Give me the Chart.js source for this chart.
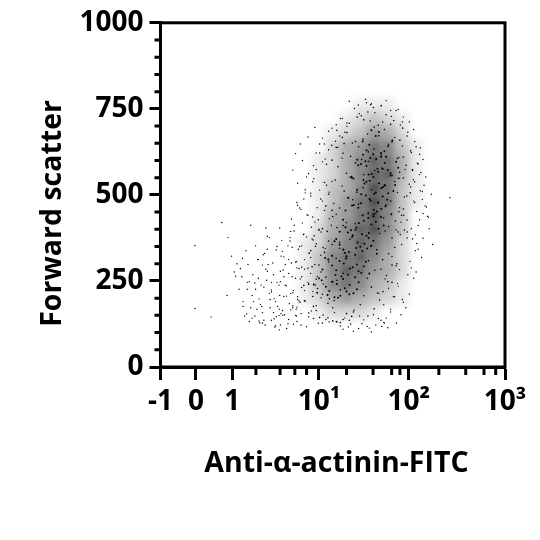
<!DOCTYPE html>
<html>
<head>
<meta charset="utf-8">
<style>
body { margin: 0; background: #fff; }
</style>
<script src="https://cdn.jsdelivr.net/npm/chart.js@4"></script>
</head>
<body>
<canvas id="myChart" width="540" height="540"></canvas>
<script>
// eje x en canales (0-1000) porque la escala original es biexponencial
const xTicks = [0, 103, 208, 460, 721, 1000]
const xTickLabels = ["-1", "0", "1", "10¹", "10²", "10³"]
const xMinor = [277, 347, 390, 424, 540, 617, 671, 695, 808, 886, 939, 973]
const yTicks = [0, 250, 500, 750, 1000]
const yMinor = [50, 100, 150, 200, 300, 350, 400, 450, 550, 600, 650, 700, 800, 850, 900, 950]

// el original tiene miles de puntos: aqui va una muestra leida a ojo
// y debajo una capa de densidad (0-9) estimada de la imagen
const densX = [380, 420, 460, 500, 540, 580, 620, 660, 700, 740]
const densY = [760, 720, 680, 640, 600, 560, 520, 480, 440, 400, 360, 320, 280, 240, 200, 160]
const densVal = [
    [0,0,0,0,0,1,1,1,0,0],
    [0,0,0,0,1,2,3,2,1,0],
    [0,0,0,1,2,3,5,4,2,0],
    [0,0,0,2,4,5,7,6,3,1],
    [0,0,1,2,4,6,8,7,4,1],
    [0,0,1,2,4,6,8,8,4,1],
    [0,0,1,3,4,6,9,7,3,1],
    [0,0,1,3,5,7,9,7,3,1],
    [0,0,1,4,5,7,9,6,3,0],
    [0,0,2,4,6,8,9,6,3,0],
    [0,1,2,5,6,8,7,5,2,0],
    [0,1,3,6,7,8,6,4,2,0],
    [0,1,3,6,8,7,5,4,2,0],
    [0,1,3,6,7,6,4,3,1,0],
    [0,1,2,4,5,4,3,2,1,0],
    [0,0,1,2,2,2,1,0,0,0]
]

const coreX = [612,640,587,661,625,598,673,634,606,650,
571,632,655,598,684,617,645,582,668,609,
640,595,660,626,574,690,613,651,588,630,
560,625,592,668,641,607,583,652,618,676,
634,571,604,661,589,646,620,555,681,598,
545,603,632,574,658,587,619,645,561,610,
628,556,596,670,582,641,607,537,653,618,
530,585,612,553,640,569,598,625,544,603,
576,633,520,590,558,618,648,537,605,566,
510,565,592,531,618,547,580,604,498,572,
540,600,520,628,556,586,505,612,535,568,
487,544,570,510,596,525,558,478,583,532,
550,498,606,520,565,470,538,590,508,575,
468,522,549,490,575,505,535,460,560,512,
480,530,455,548,498,570,515,445,540,485]
const coreY = [688,622,655,641,671,630,658,683,646,627,
602,567,611,584,596,618,575,590,563,607,
611,598,572,604,586,579,561,593,617,576,
548,507,533,556,519,541,502,527,552,511,
534,515,559,505,543,523,503,550,529,538,
492,447,478,463,486,441,457,495,471,483,
452,469,498,444,476,460,488,455,467,443,
428,386,414,397,436,405,381,422,391,433,
418,402,393,425,383,437,411,406,389,399,
372,326,358,341,367,334,349,375,323,362,
321,344,355,329,378,337,365,352,331,346,
312,268,298,281,306,263,290,317,274,301,
286,295,272,308,261,283,315,293,267,278,
252,207,238,221,246,203,229,258,214,241,
233,256,216,211,248,226,201,240,219,209]

const bodyX = [602,645,571,668,618,590,655,632,548,677,610,583,
512,566,634,703,588,541,672,620,528,695,601,650,557,716,
497,552,620,688,530,662,584,726,510,641,575,705,603,533,
482,540,604,731,515,672,566,622,498,694,550,713,642,590,
476,533,692,588,507,725,650,555,612,488,680,527,705,570,
465,520,715,575,498,668,545,692,480,632,510,705,558,655,
458,512,700,565,484,648,530,682,470,622,500,708,540,662,
446,498,690,550,472,636,520,672,460,610,488,696,530,652,
436,488,680,540,460,628,510,662,450,604,476,686,520,645,
428,480,684,530,452,622,500,656,440,600,466,672,512,640,
416,470,672,522,442,612,490,646,430,590,456,660,504,630,
405,452,636,500,430,580,472,620,418,560,444,602,486,540,
444,500,555,470,530,462,512,548,486,522]
const bodyY = [741,712,726,705,754,718,733,702,708,716,762,730,
688,655,672,694,662,681,654,697,667,659,677,690,651,671,
644,612,633,606,621,647,603,628,638,616,640,610,625,649,
589,563,597,574,582,556,593,571,601,566,552,586,578,559,
536,511,548,521,543,506,529,553,515,502,539,526,549,508,
488,462,497,473,455,482,492,451,468,476,444,459,486,471,
428,405,441,416,394,433,411,424,402,446,437,398,420,408,
381,356,392,371,347,388,362,375,399,351,366,385,342,395,
338,305,347,322,296,341,316,329,351,309,333,300,345,312,
287,261,294,272,255,281,248,266,291,258,276,296,252,284,
237,211,246,224,205,232,198,219,241,207,228,248,193,215,
188,164,195,172,157,181,151,169,192,160,176,148,185,155,
141,134,147,128,138,144,131,136,143,129]

const outerX = [548,612,690,574,705,640,522,735,510,668,595,722,
470,742,488,752,462,746,452,756,478,738,444,760,
430,735,442,744,420,752,416,728,408,716,436,748,
398,425,412,388,440,404,376,432,395,418,382,450,
690,722,705,680,735,712,698,668,728,655,685,642,
370,392,356,410,365,378,348,402,384,358,395,345,
372,350,386,340,366,396,330,355,408,322,378,345,
600,650,575,625,560,640,530,612,585,545,510,660,
780,772,765,790,758,748,775,786,742,762,840,770]
const outerY = [772,765,748,761,726,758,722,690,704,745,778,712,
665,640,685,618,648,592,622,565,604,538,585,510,
562,482,538,452,515,428,488,402,458,375,505,342,
470,442,418,395,372,350,376,330,306,284,262,238,
235,212,188,204,258,172,152,168,288,142,128,118,
352,305,282,262,236,214,248,192,172,205,148,168,
138,155,124,176,112,132,198,150,122,218,166,108,
118,128,112,122,104,136,110,102,126,116,132,114,
402,465,528,356,318,590,438,502,276,374,492,552]

const fringeX = [528,563,598,622,655,684,541,577,609,641,670,702,
498,520,476,535,462,508,488,527,470,515,452,541,
445,482,462,498,436,470,455,490,428,476,448,503,
438,466,424,490,452,415,478,443,496,431,460,410,
418,448,402,436,465,392,428,455,410,442,472,398,
420,452,386,438,466,408,430,480,396,458,424,490,
505,535,562,590,618,648,522,552,578,606,632,668,
648,676,702,662,688,718,634,694,652,724,672,740,
700,732,684,748,716,762,694,738,708,754,722,690,
740,706,768,726,752,688,716,778,734,698,760,744,
710,746,692,728,762,702,738,680,718,754,696,732]
const fringeY = [722,751,768,739,774,745,709,736,715,760,728,712,
694,671,648,682,622,656,631,607,596,638,574,699,
547,528,514,539,497,482,463,508,441,455,421,475,
406,392,378,431,358,385,344,369,412,331,398,352,
312,298,286,272,325,258,246,263,231,219,241,204,
192,178,222,163,201,155,146,138,174,127,117,131,
158,142,165,137,152,129,119,125,148,113,141,160,
181,204,196,229,243,268,214,283,256,307,321,338,
356,372,398,411,427,446,463,478,494,512,531,548,
384,441,468,523,559,507,392,435,544,421,487,359,
574,591,609,623,603,642,655,667,682,637,703,571]

const tailX = [100,100,147,193,196,178,222,248,262,236,
286,274,300,252,318,268,296,330,282,308,
346,322,290,338,354,312,276,334,360,300,
372,350,328,384,316,344,296,366,392,338,
304,258,326,284,352,372,310,240,336,294,
266,378,348,316,288,362,252,334,398,306,
400,380,410,396,376,420,388,430,404,416,
424,398,436,412,384,442,406,392,428,448,
206,232,258,284,310,336,362,218,244,270,296,322,
348,374,228,254,280,306,332,358,384,240,266,292,
318,344,370,396,276,302,328,354,380,406,214,250,
286,322,358,394,238,274,310,346,382,418,262,298]
const tailY = [353,170,145,208,376,420,300,338,172,262,
198,148,232,226,172,268,158,140,312,252,
208,136,182,246,164,298,226,190,152,136,
272,322,158,178,214,238,296,206,150,350,
122,132,302,258,368,312,342,190,146,176,
142,394,278,376,128,238,246,120,196,404,
342,430,290,478,366,506,412,240,462,386,
552,534,318,600,572,436,648,620,668,696,
322,286,248,312,278,340,298,264,148,190,128,246,
122,184,226,298,168,284,116,262,216,176,208,238,
196,150,126,288,352,330,268,336,302,256,276,154,
134,224,320,168,316,244,380,404,348,222,412,326]

const zipPts = (xs, ys) => xs.map((x, i) => ({ x: x, y: ys[i] }))

const dotSet = (xs, ys, r) => ({
    data: zipPts(xs, ys),
    backgroundColor: "#000",
    borderWidth: 0,
    pointRadius: r,
    pointHoverRadius: r
})

// capa de densidad: una celda por cada valor mayor que cero
const densPts = []
const densColors = []
densVal.forEach((fila, j) => {
    fila.forEach((v, i) => {
        if (v > 0) {
            densPts.push({ x: densX[i], y: densY[j] })
            densColors.push(`rgba(0,0,0,${v * 0.085})`)
        }
    })
})

const fuente = { family: "'Open Sans'", weight: "700", size: 28 }
const fuenteTitulo = { family: "'Open Sans'", weight: "700", size: 28.5 }

// difumina solo la capa de densidad
const blurPlugin = {
    id: "blurDens",
    beforeDatasetDraw(chart, args) {
        if (args.index === 0) {
            chart.ctx.save()
            chart.ctx.filter = "blur(4px)"
        }
    },
    afterDatasetDraw(chart, args) {
        if (args.index === 0) chart.ctx.restore()
    }
}

// marco y marcas menores
const marcoPlugin = {
    id: "marco",
    afterDraw(chart) {
        const ctx = chart.ctx
        const a = chart.chartArea
        ctx.save()
        ctx.strokeStyle = "#000"
        ctx.lineWidth = 3
        ctx.strokeRect(a.left, a.top, a.right - a.left, a.bottom - a.top)
        ctx.beginPath()
        xMinor.forEach(v => {
            const p = chart.scales.x.getPixelForValue(v)
            ctx.moveTo(p, a.bottom)
            ctx.lineTo(p, a.bottom + 8)
        })
        yMinor.forEach(v => {
            const p = chart.scales.y.getPixelForValue(v)
            ctx.moveTo(a.left, p)
            ctx.lineTo(a.left - 6, p)
        })
        ctx.stroke()
        ctx.restore()
    }
}

new Chart(document.getElementById("myChart"), {
    type: "scatter",
    plugins: [blurPlugin, marcoPlugin],
    data: {
        datasets: [
            {
                data: densPts,
                backgroundColor: densColors,
                borderWidth: 0,
                pointStyle: "rect",
                pointRadius: 10,
                pointHoverRadius: 10,
                order: 5
            },
            dotSet(tailX, tailY, 0.7),
            dotSet(outerX, outerY, 0.7),
            dotSet(fringeX, fringeY, 0.7),
            dotSet(bodyX, bodyY, 0.8),
            dotSet(coreX, coreY, 1.0)
        ]
    },
    options: {
        responsive: false,
        animation: false,
        layout: { padding: { left: 0, top: 21.5, right: 35, bottom: 0 } },
        plugins: { legend: { display: false }, tooltip: { enabled: false } },
        scales: {
            x: {
                type: "linear",
                min: 0,
                max: 1000,
                afterFit: s => { s.height = 173 },
                afterBuildTicks: s => { s.ticks = xTicks.map(v => ({ value: v })) },
                grid: { drawOnChartArea: false, tickLength: 13, tickWidth: 3, tickColor: "#000" },
                border: { color: "#000", width: 3 },
                ticks: {
                    autoSkip: false,
                    maxRotation: 0,
                    padding: 5,
                    color: "#000",
                    font: fuente,
                    callback: (v) => xTickLabels[xTicks.indexOf(v)]
                },
                title: {
                    display: true,
                    text: " Anti-α-actinin-FITC",
                    color: "#000",
                    font: fuenteTitulo,
                    padding: { top: 0, bottom: 59 }
                }
            },
            y: {
                type: "linear",
                min: 0,
                max: 1000,
                afterFit: s => { s.width = 160.5 },
                afterBuildTicks: s => { s.ticks = yTicks.map(v => ({ value: v })) },
                grid: { drawOnChartArea: false, tickLength: 11, tickWidth: 3, tickColor: "#000" },
                border: { color: "#000", width: 3 },
                ticks: {
                    autoSkip: false,
                    padding: 6,
                    color: "#000",
                    font: fuente,
                    callback: (v) => String(v)
                },
                title: {
                    display: true,
                    text: "Forward scatter     ",
                    color: "#000",
                    font: fuenteTitulo,
                    padding: { top: 36, bottom: 0 }
                }
            }
        }
    }
})
</script>
</body>
</html>
